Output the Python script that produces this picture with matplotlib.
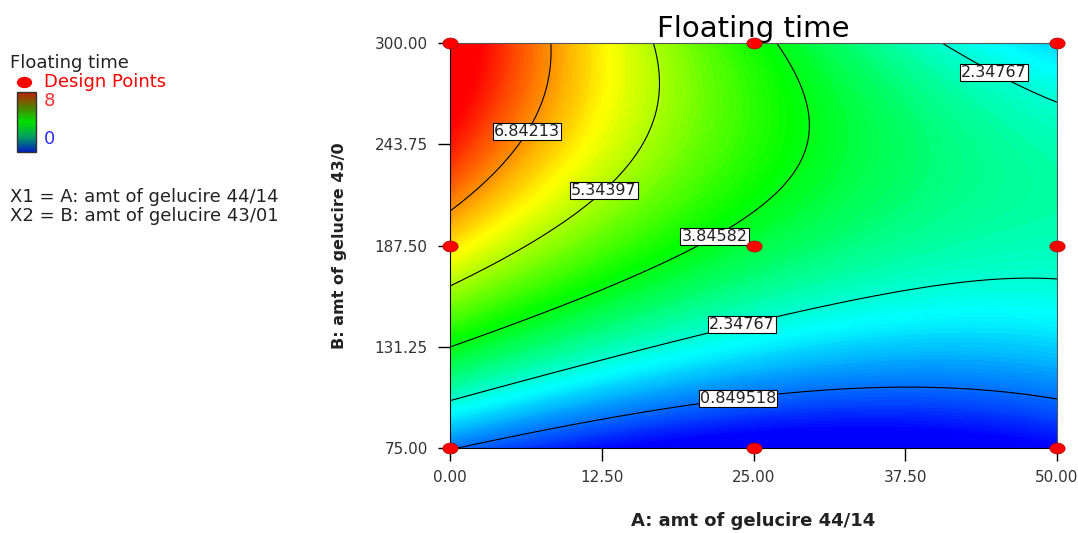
import numpy as np
import matplotlib
matplotlib.use('Agg')
import matplotlib.pyplot as plt
from matplotlib.colors import LinearSegmentedColormap
from matplotlib.path import Path
from matplotlib.transforms import Affine2D

# factor levels
a_levels = [0.0, 12.5, 25.0, 37.5, 50.0]
b_levels = [75.0, 131.25, 187.5, 243.75, 300.0]
# floating time, rows = B (75 -> 300), cols = A (0 -> 50)
ft_row_75 = [0.8, 0.17, -0.25, -0.45, -0.1]
ft_row_131 = [3.9, 2.64, 1.7, 1.5, 1.72]
ft_row_187 = [6.22, 4.6, 3.5, 2.9, 2.65]
ft_row_243 = [7.9, 5.75, 4.3, 3.1, 2.55]
ft_row_300 = [8.5, 6.03, 4.15, 2.74, 1.6]
contour_levels = [0.849518, 2.34767, 3.84582, 5.34397, 6.84213]
# design points
design_a = [0, 25, 50, 0, 25, 50, 0, 25, 50]
design_b = [75, 75, 75, 187.5, 187.5, 187.5, 300, 300, 300]

x_ticks = [0, 12.5, 25, 37.5, 50]
y_ticks = [75, 131.25, 187.5, 243.75, 300]

ft = np.array([ft_row_75, ft_row_131, ft_row_187, ft_row_243, ft_row_300])

def terms(a, b):
    # coded cubic response surface
    return np.stack([np.ones_like(a), a, b, a*b, a**2, b**2, a**2*b, a*b**2, a**3, b**3], -1)

def code(A, B):
    return (A - 25) / 25, (B - 187.5) / 112.5

AA, BB = np.meshgrid(a_levels, b_levels)
ca, cb = code(AA.ravel(), BB.ravel())
coef, *_ = np.linalg.lstsq(terms(ca, cb), ft.ravel(), rcond=None)

A = np.linspace(0, 50, 300)
B = np.linspace(75, 300, 300)
GA, GB = np.meshgrid(A, B)
ga, gb = code(GA, GB)
Z = terms(ga, gb) @ coef

cmap = LinearSegmentedColormap.from_list('de', ['#0000ff', '#00ffff', '#00ff00', '#ffff00', '#ff0000'])

fig = plt.figure(figsize=(10.78, 5.33), dpi=100)
ax = fig.add_axes([450/1078, 1 - 448/533, 607/1078, 405/533])
ax.contourf(GA, GB, Z, levels=np.linspace(0, 8, 120), cmap=cmap, extend='both')
cs = ax.contour(GA, GB, Z, levels=contour_levels, colors='black', linewidths=0.8)
lbl_pos = [(23.6, 109.4), (23.9, 147.2), (45.1, 287), (21.6, 194.6), (12.2, 221.7), (6.1, 251.7)]
txts = ax.clabel(cs, inline=False, fontsize=11.5, fmt=lambda v: ('%.6g' % v), manual=lbl_pos)
for t in txts:
    t.set_rotation(0)
    t.set_color('#222222')
    t.set_bbox(dict(facecolor='white', edgecolor='black', linewidth=0.8, pad=0.8))

ell = Path.unit_circle().transformed(Affine2D().scale(1.4, 1.0))
ax.plot(design_a, design_b, linestyle='none', marker=ell, markersize=11, color='red',
        markeredgecolor='#aa0000', markeredgewidth=0.5, clip_on=False, zorder=5)

ax.set_xlim(0, 50)
ax.set_ylim(75, 300)
ax.set_xticks(x_ticks)
ax.set_yticks(y_ticks)
ax.set_xticklabels(['%.2f' % v for v in x_ticks])
ax.set_yticklabels(['%.2f' % v for v in y_ticks])
ax.tick_params(direction='out', length=9, width=1, labelsize=11, colors='black', labelcolor='#333333', pad=7)
for s in ['top', 'right']:
    ax.spines[s].set_color('#555555')
ax.set_title('Floating time', fontsize=21, pad=3)
ax.set_xlabel('A: amt of gelucire 44/14', fontsize=13, fontweight='bold', color='#222222', va='center')
ax.xaxis.set_label_coords(0.5, -0.18)
ax.set_ylabel('B: amt of gelucire 43/0', fontsize=11.5, fontweight='bold', labelpad=20, color='#222222')

# left legend
fig.text(10/1078, 1 - 63/533, 'Floating time', fontsize=13, va='center', color='#222222')
fig.text(44/1078, 1 - 82/533, 'Design Points', fontsize=13, va='center', color='red')
lax = fig.add_axes([0, 0, 1, 1], facecolor='none')
lax.axis('off')
lax.plot([24], [82], linestyle='none', marker=ell, markersize=10, color='red')
bar_cmap = LinearSegmentedColormap.from_list('bar', ['#0020c0', '#00a060', '#00e000', '#508000', '#c02000'])
lax.imshow(np.linspace(1, 0, 100)[:, None], cmap=bar_cmap, extent=[17, 36, 152, 92], aspect='auto')
lax.add_patch(plt.Rectangle((17, 92), 19, 60, fill=False, edgecolor='#333333', linewidth=1))
lax.set_xlim(0, 1078)
lax.set_ylim(533, 0)
fig.text(44/1078, 1 - 101/533, '8', fontsize=13, va='center', color='#ff3030')
fig.text(44/1078, 1 - 139/533, '0', fontsize=13, va='center', color='#3030ff')
fig.text(10/1078, 1 - 197/533, 'X1 = A: amt of gelucire 44/14', fontsize=13, va='center', color='#222222')
fig.text(10/1078, 1 - 216/533, 'X2 = B: amt of gelucire 43/01', fontsize=13, va='center', color='#222222')

fig.savefig('out.png', dpi=100)
